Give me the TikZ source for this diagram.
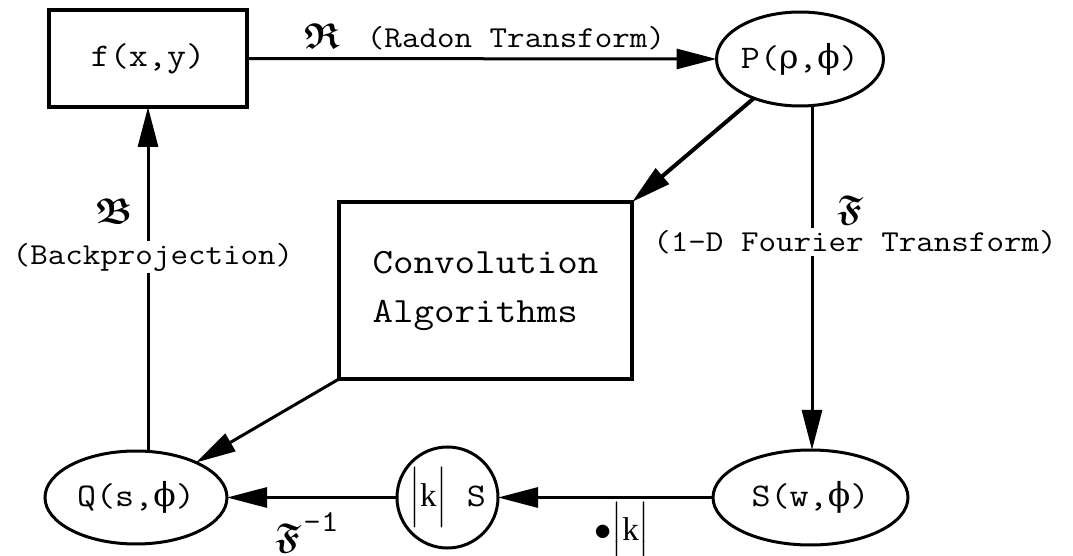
\documentclass[tikz,border=0pt]{standalone}
\usepackage{amsmath,amssymb}
\usepackage{fontspec}
\newfontfamily\cour{Latin Modern Mono}[FakeStretch=1.12]
\newfontfamily\sym{DejaVu Serif}
\newfontfamily\tms{Liberation Serif}
\usetikzlibrary{shapes.geometric,arrows.meta}
\newcommand{\absk}{$\Bigl|${\tms k}$\Bigr|$}
\begin{document}
\begin{tikzpicture}[x=0.5pt,y=-0.5pt,
  every node/.style={inner sep=0pt,outer sep=0pt},
  box/.style={draw,line width=1.6pt,font=\cour\fontsize{16.5}{24.5}\selectfont},
  ell/.style={draw,ellipse,line width=1.5pt,font=\cour\fontsize{16.5}{20}\selectfont},
  conn/.style={line width=1.5pt,-{Triangle[length=20pt,width=10pt]}},
  lbl/.style={font=\cour\fontsize{15.2}{18}\selectfont},
  frak/.style={font=\fontsize{18}{20}\selectfont}]
\useasboundingbox (0,0) rectangle (1073,556);
% nodes
\node[box,minimum width=99pt,minimum height=48.5pt] (f) at (148,58.5) {f(x,y)};
\node[ell,minimum width=82.5pt,minimum height=47pt] (P) at (800,59) {P({\sym ρ},{\sym ϕ})};
\node[box,minimum width=146.5pt,minimum height=88.5pt,align=left,font=\cour\fontsize{17.8}{24.5}\selectfont] (conv) at (485.5,290.5) {Convolution\\Algorithms};
\node[ell,minimum width=97.5pt,minimum height=47.5pt] (S) at (810.5,497.5) {S(w,{\sym ϕ})};
\node[draw,circle,line width=1.5pt,minimum size=50.5pt,font=\cour\fontsize{16.5}{20}\selectfont] (K) at (447.5,497.5) {\absk\ S};
\node[ell,minimum width=91pt,minimum height=46.5pt] (Q) at (136,497.5) {Q(s,{\sym ϕ})};
% connectors
\draw[conn] (f.east) -- (P.west);
\draw[conn,line width=2pt] (P) -- (conv.north east);
\draw[conn] (P.south -| 812,0) -- (S.north -| 812,0);
\draw[conn] (conv.south west) -- (Q);
\draw[conn] (S.west) -- (K.east);
\draw[conn] (K.west) -- (Q.east);
\draw[conn] (Q.north -| f.south) -- (f.south);
% labels
\node[frak] (lR) at (322,36) {$\boldsymbol{\mathfrak{R}}$};
\node[lbl] (lRadon) at (516,38) {(Radon Transform)};
\node[frak] (lF) at (850,210) {$\boldsymbol{\mathfrak{F}}$};
\node[lbl,fill=white,inner sep=1pt] (lFourier) at (855,242) {(1-D Fourier Transform)};
\node[frak] (lB) at (114,211) {$\boldsymbol{\mathfrak{B}}$};
\node[lbl,fill=white,inner sep=1pt] (lBack) at (153,257) {(Backprojection)};
\node[frak] (lFi) at (288,538) {$\boldsymbol{\mathfrak{F}}$};
\node[lbl] (lm1) at (321,522) {-1};
\node[font=\fontsize{16.5}{20}\selectfont] (lk) at (622,532) {$\bullet$\absk};
\end{tikzpicture}
\end{document}
